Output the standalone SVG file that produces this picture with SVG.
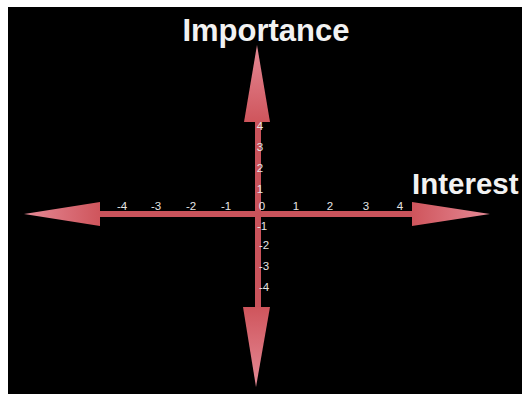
<svg xmlns="http://www.w3.org/2000/svg" width="522" height="394" viewBox="0 0 522 394">
  <defs>
    <linearGradient id="gUp" x1="0" y1="1" x2="0" y2="0">
      <stop offset="0" stop-color="#cf555c"/>
      <stop offset="1" stop-color="#e58a96"/>
    </linearGradient>
    <linearGradient id="gDown" x1="0" y1="0" x2="0" y2="1">
      <stop offset="0" stop-color="#cf555c"/>
      <stop offset="1" stop-color="#e58a96"/>
    </linearGradient>
    <linearGradient id="gLeft" x1="1" y1="0" x2="0" y2="0">
      <stop offset="0" stop-color="#cf555c"/>
      <stop offset="1" stop-color="#e58a96"/>
    </linearGradient>
    <linearGradient id="gRight" x1="0" y1="0" x2="1" y2="0">
      <stop offset="0" stop-color="#cf555c"/>
      <stop offset="1" stop-color="#e58a96"/>
    </linearGradient>
  </defs>
  <style>
    .title { font-family: "Liberation Sans", Arial, sans-serif; font-weight: bold; font-size: 31px; fill: #f2f2f2; }
    .tick { font-family: "Liberation Sans", Arial, sans-serif; font-size: 11.5px; fill: #e6e6e6; text-anchor: middle; dominant-baseline: central; }
    .shaft { fill: #c9535b; }
  </style>
  <rect x="0" y="0" width="522" height="394" fill="#ffffff"/>
  <rect x="8" y="7" width="514" height="387" fill="#000000"/>

  <g id="connectors">
    <g id="axis-horizontal">
      <rect class="shaft" x="98" y="211" width="316" height="6"/>
      <polygon points="100,202 100,226 24,214" fill="url(#gLeft)"/>
      <polygon points="412,202 412,226 490,214" fill="url(#gRight)"/>
    </g>
    <g id="axis-vertical">
      <rect class="shaft" x="255" y="120" width="6" height="189"/>
      <polygon points="244,122 270,122 257,45" fill="url(#gUp)"/>
      <polygon points="243,307 270,307 256,387" fill="url(#gDown)"/>
    </g>
  </g>

  <g id="label-importance">
    <text class="title" x="266" y="41" text-anchor="middle">Importance</text>
  </g>
  <g id="label-interest">
    <text class="title" x="412" y="194" style="font-size:29.5px">Interest</text>
  </g>

  <g id="ticks-horizontal">
    <text class="tick" x="122" y="206">-4</text>
    <text class="tick" x="156" y="206">-3</text>
    <text class="tick" x="191" y="206">-2</text>
    <text class="tick" x="226" y="206">-1</text>
    <text class="tick" x="262" y="206">0</text>
    <text class="tick" x="296" y="206">1</text>
    <text class="tick" x="330" y="206">2</text>
    <text class="tick" x="366" y="206">3</text>
    <text class="tick" x="400" y="206">4</text>
  </g>
  <g id="ticks-vertical">
    <text class="tick" x="260" y="126">4</text>
    <text class="tick" x="260" y="147">3</text>
    <text class="tick" x="260" y="168">2</text>
    <text class="tick" x="260" y="189">1</text>
    <text class="tick" x="262" y="226">-1</text>
    <text class="tick" x="264" y="245">-2</text>
    <text class="tick" x="264" y="266">-3</text>
    <text class="tick" x="264" y="287">-4</text>
  </g>
</svg>
